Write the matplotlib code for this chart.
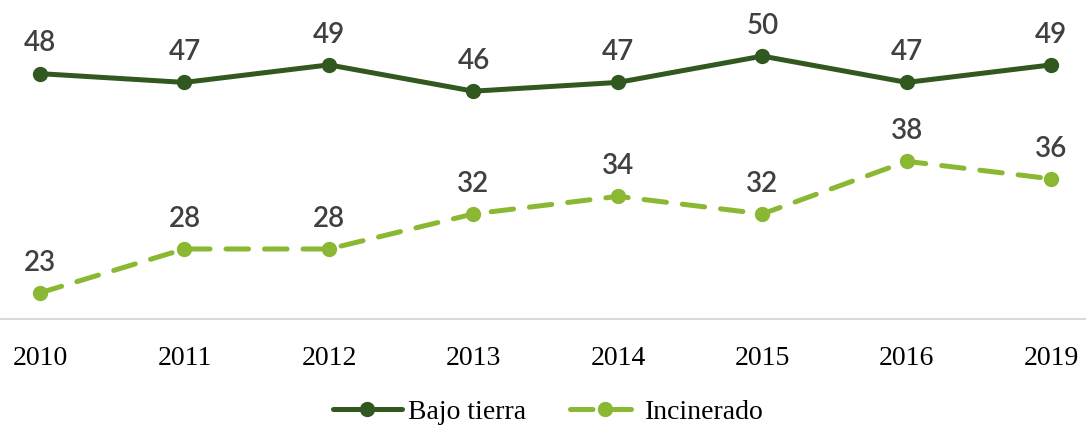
import matplotlib.pyplot as plt

years = ["2010", "2011", "2012", "2013", "2014", "2015", "2016", "2019"]
bajo_tierra = [48, 47, 49, 46, 47, 50, 47, 49]
incinerado = [23, 28, 28, 32, 34, 32, 38, 36]

dark = "#31591F"
light = "#8AB833"
label_col = "#404040"

fig = plt.figure(figsize=(10.86, 4.33), dpi=100)
ax = fig.add_axes([0, 0.263, 1, 0.737])

x = list(range(len(years)))
ax.plot(x, bajo_tierra, color=dark, lw=3.6, marker="o", ms=10,
        solid_capstyle="round", label="Bajo tierra")
ax.plot(x, incinerado, color=light, lw=3.6, marker="o", ms=10,
        dashes=(4.5, 3.2), dash_capstyle="round", label="Incinerado")

# data labels
for series in (bajo_tierra, incinerado):
    for xi, v in zip(x, series):
        ax.annotate(str(v), (xi, v), xytext=(0, 16), textcoords="offset points",
                    ha="center", va="baseline", fontsize=20, color=label_col,
                    family="Lato", weight="semibold")

ax.set_xlim(-0.277, 7.24)
ax.set_ylim(20, 56.4)
ax.set_xticks(x)
ax.set_xticklabels(years, family="Liberation Serif", fontsize=20, color="black")
ax.tick_params(axis="x", length=0, pad=19)
ax.set_yticks([])
for s in ("top", "right", "left"):
    ax.spines[s].set_visible(False)
ax.spines["bottom"].set_color("#D9D9D9")
ax.spines["bottom"].set_linewidth(1.5)

fig.legend(loc="center", bbox_to_anchor=(0.505, 0.048), ncol=2, frameon=False,
           prop={"family": "Liberation Serif", "size": 20}, handlelength=2.5,
           columnspacing=1.6, handletextpad=0.2)

fig.savefig("out.png", dpi=100)
